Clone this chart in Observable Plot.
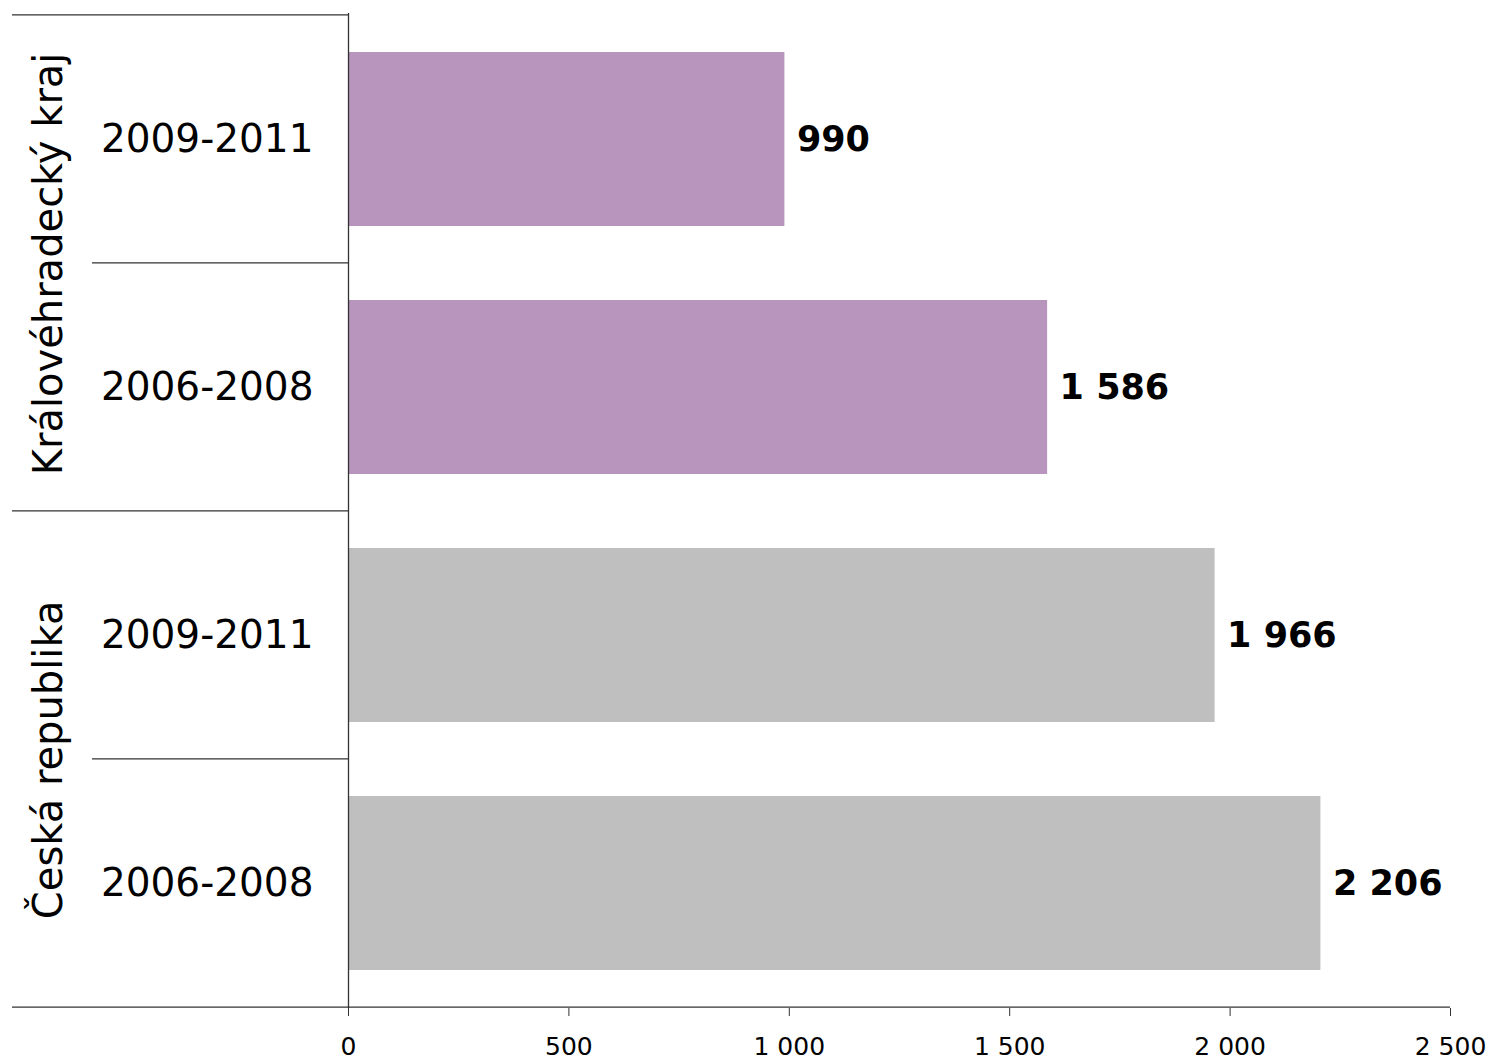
<!DOCTYPE html>
<html>
<head>
<meta charset="utf-8">
<script src="https://cdn.jsdelivr.net/npm/d3@7"></script>
<script src="https://cdn.jsdelivr.net/npm/@observablehq/plot@0.6"></script>
<style>
  html, body { margin: 0; padding: 0; background: white; }
  #chart svg { display: block; }
</style>
</head>
<body>
<div id="chart"></div>
<script>
const groups = ["Královéhradecký kraj", "Královéhradecký kraj", "Česká republika", "Česká republika"];
const periods = ["2009-2011", "2006-2008", "2009-2011", "2006-2008"];
const values = [990, 1586, 1966, 2206];
const groupNames = ["Královéhradecký kraj", "Česká republika"];
const groupColors = ["#b895bd", "#bfbfbf"];
const xTicks = [0, 500, 1000, 1500, 2000, 2500];

const keys = groups.map((g, i) => g + "|" + periods[i]);
const data = keys.map((k, i) => ({key: k, group: groups[i], period: periods[i], value: values[i]}));
const fmt = d3.formatLocale({decimal: ",", thousands: " ", grouping: [3], currency: ["", ""]}).format(",d");

const W = 1493, H = 1062, mL = 348, mR = 43, mT = 13, mB = 54;
const pIn = 0.3, pOut = 0.15;
const step = (H - mT - mB) / (keys.length - pIn + 2 * pOut);

const chart = Plot.plot({
  width: W, height: H,
  marginLeft: mL, marginRight: mR, marginTop: mT, marginBottom: mB,
  style: {fontFamily: "'DejaVu Sans', Verdana, sans-serif", background: "white", color: "black", overflow: "visible"},
  x: {domain: [0, 2500]},
  y: {domain: keys, paddingInner: pIn, paddingOuter: pOut},
  color: {domain: groupNames, range: groupColors},
  marks: [
    Plot.barX(data, {x: "value", y: "key", fill: "group"}),
    Plot.text(data, {x: "value", y: "key", text: d => fmt(d.value), textAnchor: "start", dx: 12, fontSize: 35, fontWeight: "bold", fill: "black"}),
    Plot.axisY({tickSize: 0, tickPadding: 35, fontSize: 39, tickFormat: k => k.split("|")[1], label: null}),
    Plot.axisX({ticks: xTicks, tickSize: 8, tickPadding: 21, fontSize: 25, tickFormat: fmt, label: null, stroke: "#333"}),
    Plot.ruleX([0], {stroke: "#333", strokeWidth: 1.3}),
    Plot.text(groupNames, {
      y: g => keys[groups.indexOf(g)], text: d => d,
      frameAnchor: "left", dx: 49 - mL, dy: step / 2,
      rotate: -90, textAnchor: "middle", fontSize: 40, fill: "black"
    })
  ]
});

document.getElementById("chart").appendChild(chart);

// separator lines placed from the plot's own scales
const ys = chart.scale("y"), xs = chart.scale("x");
const half = ys.step * pIn / 2;
const svg = d3.select(chart);
const lines = [];
keys.forEach((k, i) => {
  const yy = ys.apply(k) - half;
  const x0 = (i === 0 || groups[i] !== groups[i - 1]) ? 12 : 92;
  lines.push([x0, xs.apply(0), yy]);
});
const yBottom = ys.apply(keys[keys.length - 1]) + ys.bandwidth + half;
lines.push([12, xs.apply(2500), yBottom]);
svg.append("g").selectAll("line").data(lines).join("line")
  .attr("x1", d => d[0]).attr("x2", d => d[1])
  .attr("y1", d => d[2]).attr("y2", d => d[2])
  .attr("stroke", "#333").attr("stroke-width", 1.3);
</script>
</body>
</html>
